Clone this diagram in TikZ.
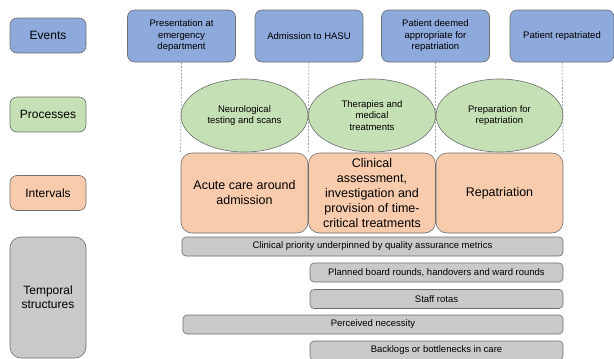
\documentclass[tikz,border=0pt]{standalone}
\usepackage{fontspec}
\setmainfont{Liberation Sans}
\usetikzlibrary{positioning,shapes.geometric}

\definecolor{evblue}{HTML}{8EA9DB}
\definecolor{prgreen}{HTML}{C5E0B4}
\definecolor{inorange}{HTML}{F8CBAD}
\definecolor{tsgrey}{HTML}{C9C9C9}
\definecolor{edgegrey}{HTML}{6E6E6E}

\begin{document}
\begin{tikzpicture}[
            x=1pt,y=-1pt,
            box/.style={draw=edgegrey,line width=0.6pt,rounded corners=7pt,inner sep=0pt,align=center},
            small/.style={font=\fontsize{9.5}{11.5}\selectfont},
            rowlabel/.style={box,minimum width=76pt,minimum height=35pt,font=\fontsize{12}{14}\selectfont},
            event/.style={box,small,fill=evblue,minimum width=108pt,minimum height=52pt},
            process/.style={ellipse,draw=edgegrey,line width=0.6pt,fill=prgreen,inner sep=0pt,align=center,small,
                minimum width=127pt,minimum height=73pt},
            interval/.style={box,fill=inorange,rounded corners=11pt,minimum width=127pt,minimum height=80pt,
                font=\fontsize{12.5}{15}\selectfont},
            tstruct/.style={box,small,fill=tsgrey,rounded corners=4pt,minimum height=19pt},
            timeline/.style={draw=edgegrey,line width=0.5pt,dash pattern=on 2pt off 1.5pt}
        ]
            \useasboundingbox (0,0) rectangle (614,359);
            % row labels
            \node (events)    [rowlabel,fill=evblue]   at (48,35.5)  {Events};
            \node (processes) [rowlabel,fill=prgreen]  at (48,114.5) {Processes};
            \node (intervals) [rowlabel,fill=inorange] at (48,193)   {Intervals};
            \node (temporal)  [rowlabel,fill=tsgrey,minimum height=121pt,rounded corners=11pt] at (48,297.5)
                {Temporal\\structures};
            % events
            \node (ev1) [event] at (181.5,36) {Presentation at\\emergency\\department};
            \node (ev2) [event] at (309,36)   {Admission to HASU};
            \node (ev3) [event] at (435.5,36) {Patient deemed\\appropriate for\\repatriation};
            \node (ev4) [event,minimum width=104pt] at (562,36) {Patient repatriated};
            % processes
            \node (pr1) [process] at (244.5,115.5) {Neurological\\testing and scans};
            \node (pr2) [process] at (372,115.5)   {Therapies and\\medical\\treatments};
            \node (pr3) [process] at (499.5,115.5) {Preparation for\\repatriation};
            % intervals
            \node (in1) [interval] at (244.5,193) {Acute care around\\admission};
            \node (in2) [interval] at (372,193)   {Clinical\\assessment,\\investigation and\\provision of time-\\critical treatments};
            \node (in3) [interval] at (499.5,193) {Repatriation};
            % temporal structures
            \node (ts1) [tstruct,minimum width=381pt] at (372.5,246.5) {Clinical priority underpinned by quality assurance metrics};
            \node (ts2) [tstruct,minimum width=253pt] at (436.5,272.5) {Planned board rounds, handovers and ward rounds};
            \node (ts3) [tstruct,minimum width=253pt] at (436.5,299)   {Staff rotas};
            \node (ts4) [tstruct,minimum width=380pt] at (373,324.5)   {Perceived necessity};
            \node (ts5) [tstruct,minimum width=253pt] at (436.5,350.5) {Backlogs or bottlenecks in care};
            % dashed time markers
            \draw[timeline] (ev1.south) -- (in1.north west);
            \draw[timeline] (ev2.south) -- (in2.north west);
            \draw[timeline] (ev3.south) -- (in3.north west);
            \draw[timeline] (ev4.south) -- (in3.north east);
        \end{tikzpicture}
\end{document}
